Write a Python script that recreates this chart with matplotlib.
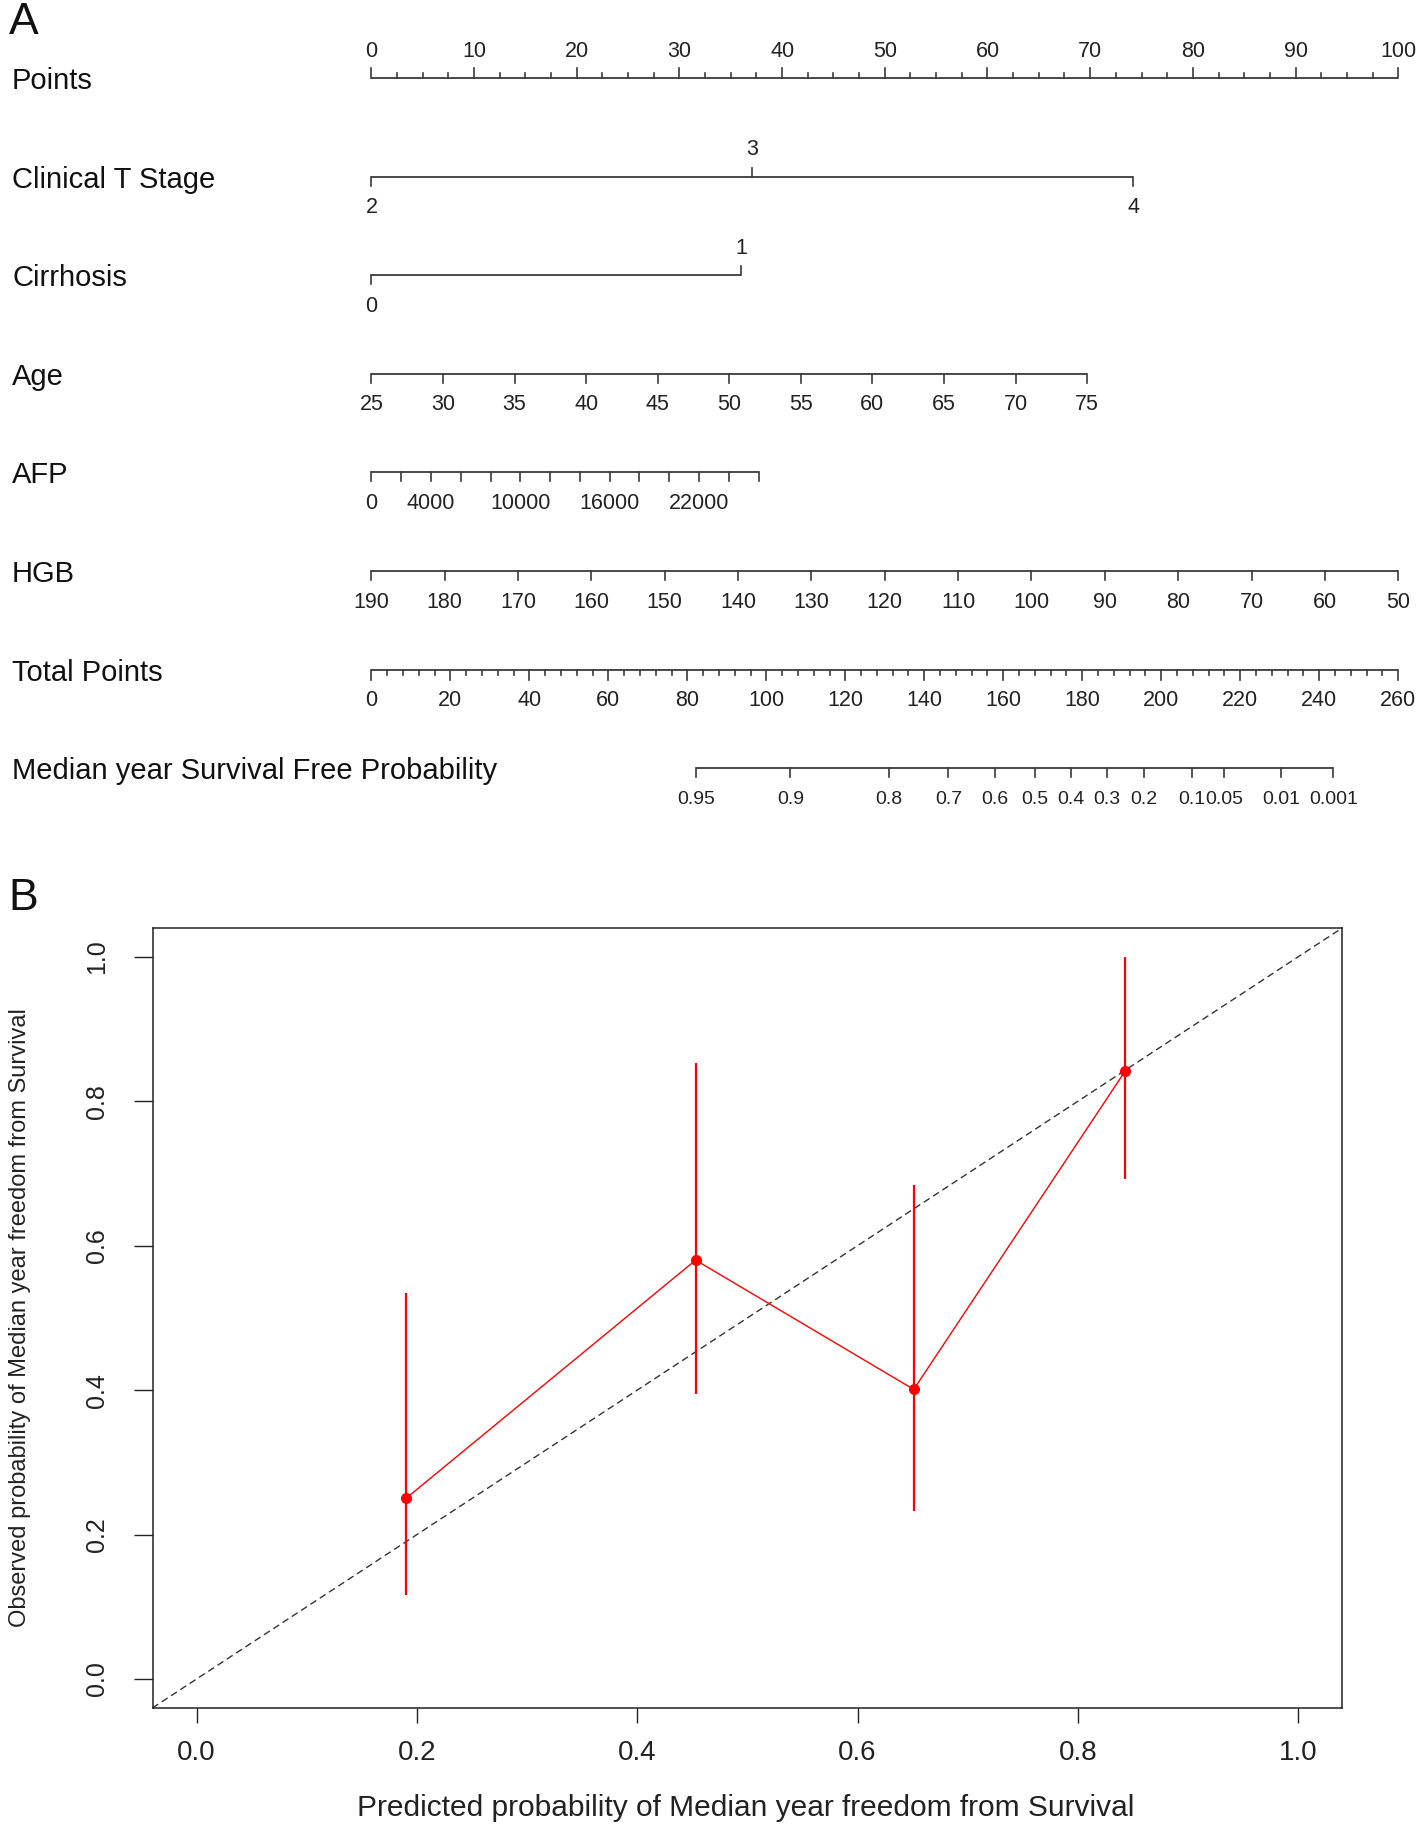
import numpy as np
import matplotlib
matplotlib.use("Agg")
import matplotlib.pyplot as plt
from matplotlib.transforms import blended_transform_factory

# ---- data: nomogram (A) ----
row_names = ["Points", "Clinical T Stage", "Cirrhosis", "Age", "AFP", "HGB",
             "Total Points", "Median year Survival Free Probability"]

points_ticks = [0, 10, 20, 30, 40, 50, 60, 70, 80, 90, 100]

t_stage_levels = [2, 3, 4]
t_stage_points = [0, 37.1, 74.2]

cirrhosis_levels = [0, 1]
cirrhosis_points = [0, 36.0]

age_ticks = [25, 30, 35, 40, 45, 50, 55, 60, 65, 70, 75]
age_range = [25, 75]
age_points = [0, 69.7]

afp_ticks = [0, 2000, 4000, 6000, 8000, 10000, 12000, 14000, 16000,
             18000, 20000, 22000, 24000, 26000]
afp_labels = [0, 4000, 10000, 16000, 22000]
afp_range = [0, 26000]
afp_points = [0, 37.7]

hgb_ticks = [190, 180, 170, 160, 150, 140, 130, 120, 110, 100, 90, 80, 70, 60, 50]
hgb_range = [190, 50]
hgb_points = [0, 100]

total_ticks = [0, 20, 40, 60, 80, 100, 120, 140, 160, 180, 200, 220, 240, 260]
total_max = 260

surv_labels = ["0.95", "0.9", "0.8", "0.7", "0.6", "0.5", "0.4", "0.3", "0.2",
               "0.1", "0.05", "0.01", "0.001"]
surv_total = [82.2, 106.1, 131.0, 146.1, 157.9, 168.0, 177.2, 186.3, 195.6,
              207.7, 216.0, 230.4, 243.6]

# ---- data: calibration (B) ----
pred = [0.190, 0.453, 0.651, 0.843]
obs = [0.250, 0.580, 0.401, 0.842]
obs_lo = [0.116, 0.395, 0.233, 0.692]
obs_hi = [0.534, 0.853, 0.684, 1.000]
cal_ticks = [0.0, 0.2, 0.4, 0.6, 0.8, 1.0]

# ---- figure ----
W, H = 1418, 1825
fig = plt.figure(figsize=(W / 100, H / 100), dpi=100)
plt.rcParams['font.family'] = ['Liberation Sans', 'DejaVu Sans']

LINE = '#3a3a3a'
TXT = '#222222'
tick_font = dict(size=15.5, color=TXT)

# nomogram axes spans whole figure: x in points units, y in pixels
px0, px100 = 371.4, 1398.2
sc = (px100 - px0) / 100.0
ax = fig.add_axes([0, 0, 1, 1])
ax.set_xlim(-px0 / sc, (W - px0) / sc)
ax.set_ylim(H, 0)
ax.axis('off')
lab_tr = blended_transform_factory(fig.transFigure, ax.transData)

row_y = [78 + 98.6 * i for i in range(len(row_names))]
for name, y in zip(row_names, row_y):
    ax.text(12 / W, y + 3, name, transform=lab_tr, fontsize=21, ha='left', va='center',
            color='#111111')


def scale(y, pos, labels, up=None, lengths=None, label_up=None, size=None):
    pos = list(pos)
    ax.plot([min(pos), max(pos)], [y, y], color=LINE, lw=1.3, solid_capstyle='butt')
    for i, p in enumerate(pos):
        u = up[i] if up is not None else False
        L = lengths[i] if lengths is not None else 9
        d = -1 if u else 1
        ax.plot([p, p], [y, y + d * L], color=LINE, lw=1.2)
    f = dict(tick_font)
    if size:
        f['size'] = size
    for i, (p, t) in enumerate(zip(pos, labels)):
        if t is None:
            continue
        u = label_up[i] if label_up is not None else False
        ax.text(p, y + (-27 if u else 31), t, ha='center', va='center', **f)


# Points
pts_minor = np.arange(0, 100.01, 2.5)
is_major = [abs(v / 10 - round(v / 10)) < 1e-6 for v in pts_minor]
scale(row_y[0], pts_minor,
      [str(int(v)) if m else None for v, m in zip(pts_minor, is_major)],
      up=[True] * len(pts_minor), lengths=[10 if m else 5 for m in is_major],
      label_up=[True] * len(pts_minor))

# Clinical T stage
scale(row_y[1], t_stage_points, [str(v) for v in t_stage_levels],
      up=[False, True, False], label_up=[False, True, False])

# Cirrhosis
scale(row_y[2], cirrhosis_points, [str(v) for v in cirrhosis_levels],
      up=[False, True], label_up=[False, True])

# Age
scale(row_y[3], np.interp(age_ticks, age_range, age_points), [str(v) for v in age_ticks])

# AFP
scale(row_y[4], np.interp(afp_ticks, afp_range, afp_points),
      [str(v) if v in afp_labels else None for v in afp_ticks])

# HGB
scale(row_y[5], np.interp(hgb_ticks, hgb_range[::-1], hgb_points[::-1]),
      [str(v) for v in hgb_ticks])

# Total points
tp_minor = np.arange(0, total_max + 0.01, 4)
tp_all = sorted(set(list(tp_minor) + total_ticks))
scale(row_y[6], [v * 100 / total_max for v in tp_all],
      [str(int(v)) if v in total_ticks else None for v in tp_all],
      lengths=[10 if v in total_ticks else 5 for v in tp_all])

# Survival probability
scale(row_y[7], [v * 100 / total_max for v in surv_total], surv_labels, size=14)

fig.text(24 / W, 1 - 22 / H, "A", fontsize=32, ha='center', va='center', color='#111111')
fig.text(23 / W, 1 - 899 / H, "B", fontsize=32, ha='center', va='center', color='#111111')

# ---- calibration plot ----
bx0, bx1, by0, by1 = 152.5, 1342.3, 927.9, 1707.9
cax = fig.add_axes([bx0 / W, 1 - by1 / H, (bx1 - bx0) / W, (by1 - by0) / H])
cax.set_xlim(-0.04, 1.04)
cax.set_ylim(-0.04, 1.04)
cax.axline((0, 0), slope=1, color='#333333', lw=1.0, dashes=(5, 3))
cax.vlines(pred, obs_lo, obs_hi, color='red', lw=1.6)
cax.plot(pred, obs, color='red', lw=1.0, marker='o', markersize=7)
cax.set_xticks(cal_ticks)
cax.set_xticklabels([f"{v:.1f}" for v in cal_ticks], fontsize=20)
cax.set_yticks(cal_ticks)
cax.set_yticklabels([f"{v:.1f}" for v in cal_ticks], fontsize=18, rotation=90, va='center')
cax.tick_params(axis='x', length=11, width=1, pad=12, colors='#222222')
cax.tick_params(axis='y', length=13.5, width=1, pad=18, colors='#222222')
for s in cax.spines.values():
    s.set_linewidth(1.1)
    s.set_color('#222222')

fig.text(746 / W, 1 - 1808 / H, "Predicted probability of Median year freedom from Survival",
         fontsize=21.5, ha='center', va='center', color='#222222')
fig.text(20 / W, 1 - 1318 / H, "Observed probability of Median year freedom from Survival",
         fontsize=17, ha='center', va='center', rotation=90, color='#222222')

fig.savefig("out.png", dpi=100, facecolor='white')
